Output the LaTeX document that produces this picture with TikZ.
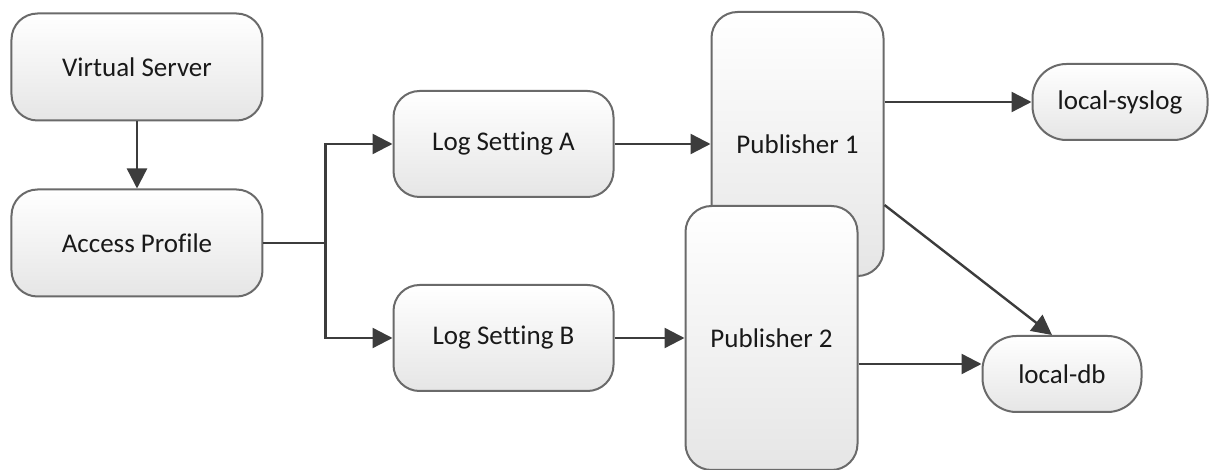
\documentclass[tikz,border=0pt]{standalone}
\usepackage{fontspec}
\setmainfont[Ligatures=NoCommon]{Carlito}
\usepackage{tikz}
\usetikzlibrary{arrows.meta,positioning,calc}

\definecolor{edgegray}{HTML}{6A6A6A}
\definecolor{linegray}{HTML}{3C3C3C}

\begin{document}
\begin{tikzpicture}[
  font=\fontsize{13.5}{16}\selectfont,
  box/.style={draw=edgegray, line width=1pt, rounded corners=13pt, top color=white, bottom color=black!10, text=black!90, align=center},
  wide/.style={box, minimum width=125.5pt, minimum height=53.5pt},
  logbox/.style={box, minimum width=110pt, minimum height=53pt},
  pubbox/.style={box, minimum width=86pt, minimum height=132pt},
  dest/.style={box, rounded corners=17pt, minimum height=38pt},
  arr/.style={-{Triangle[length=10pt,width=10pt]}, color=linegray, line width=1.2pt}
]
\useasboundingbox (-68.5pt,33.5pt) rectangle (537.5pt,-201.5pt);

\node[wide] (vs) at (0,0) {Virtual Server};
\node[wide, below=33.5pt of vs] (ap) {Access Profile};
\node[logbox, right=64.5pt of ap, yshift=49.5pt] (lsa) {Log Setting A};
\node[logbox, right=64.5pt of ap, yshift=-47.5pt] (lsb) {Log Setting B};
\node[pubbox, right=48pt of lsa] (p1) {Publisher 1};
\node[pubbox, right=35pt of lsb] (p2) {Publisher 2};
\node[dest, minimum width=87.5pt, right=73.5pt of p1, yshift=21pt] (sys) {local-syslog};
\node[dest, minimum width=79.5pt, right=61.5pt of p2, yshift=-18pt] (db) {local-db};

\coordinate (split) at ([xshift=31pt]ap.east);
\coordinate (dbin) at ([yshift=5pt]db.west);

\draw[arr] (vs) -- (ap);
\draw[color=linegray, line width=1.2pt] (ap.east) -- (split);
\draw[arr] (split) |- (lsa);
\draw[arr] (split) |- (lsb);
\draw[arr] (lsa) -- (p1);
\draw[arr] (lsb) -- (p2);
\draw[arr] (p1.east |- sys.west) -- (sys);
\draw[arr] ([yshift=-30.5pt]p1.east) -- ([xshift=-5pt]db.north);
\draw[arr] (dbin -| p2.east) -- (dbin);
\end{tikzpicture}
\end{document}
